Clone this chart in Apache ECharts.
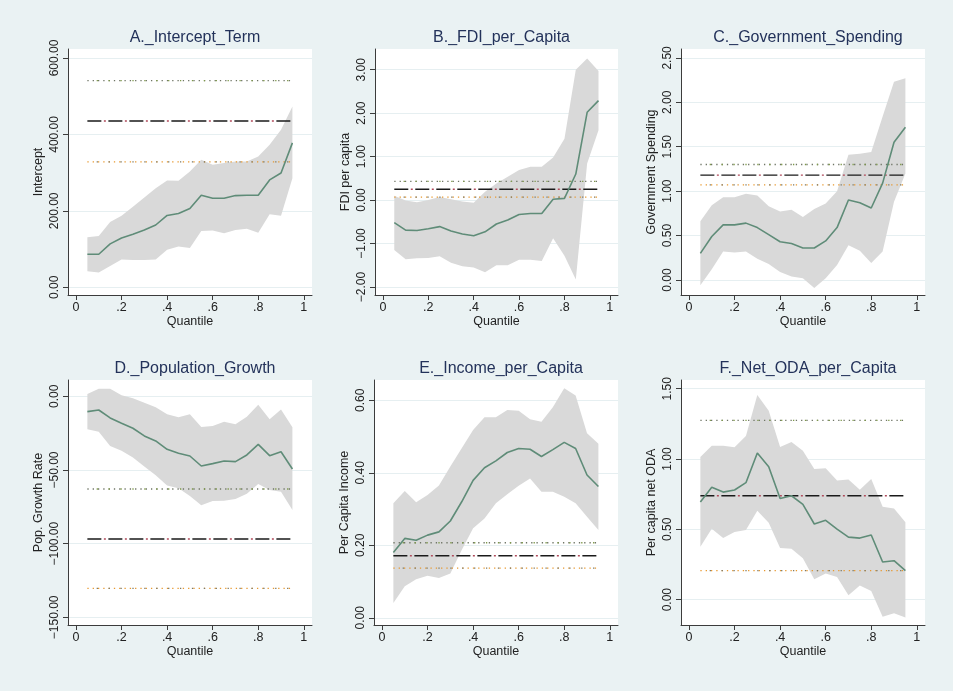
<!DOCTYPE html>
<html>
<head>
<meta charset="utf-8">
<script src="https://cdn.jsdelivr.net/npm/echarts@6/dist/echarts.min.js"></script>
<style>
  html, body { margin: 0; padding: 0; background: #eaf2f3; }
  #chart { width: 953px; height: 691px; }
</style>
</head>
<body>
<div id="chart"></div>
<script>
// Quantile regression coefficients (with 95% bands) vs. OLS estimate and its CI
const quantiles = [0.05, 0.10, 0.15, 0.20, 0.25, 0.30, 0.35, 0.40, 0.45, 0.50,
                   0.55, 0.60, 0.65, 0.70, 0.75, 0.80, 0.85, 0.90, 0.95];
const xTicks = [0, 0.2, 0.4, 0.6, 0.8, 1];

// A. Intercept
const interceptCoef  = [86.5, 86.5, 113.5, 129, 139, 150, 163, 188, 193, 206, 241, 233, 233, 240, 241, 241, 281, 299, 378];
const interceptUpper = [131, 134.5, 171, 187, 211, 235, 259, 279.5, 278.6, 303, 333.6, 320.5, 325, 329, 329, 342, 373, 412, 473];
const interceptLower = [42, 38.4, 56, 73, 71.6, 71.6, 73, 98, 106.6, 103, 147.6, 148.5, 141.5, 150, 153, 143, 191, 187, 285.6];
const interceptOls   = [435, 540.6, 328.4];   // estimate, upper, lower
const interceptTicks = [0, 200, 400, 600];

// B. FDI per capita
const fdiCoef  = [-0.52, -0.69, -0.70, -0.66, -0.61, -0.71, -0.78, -0.82, -0.73, -0.55, -0.46, -0.33, -0.31, -0.31, 0.02, 0.04, 0.60, 2.02, 2.29];
const fdiUpper = [0.10, -0.01, -0.05, 0.00, 0.07, 0.02, -0.03, -0.06, 0.19, 0.38, 0.54, 0.69, 0.77, 0.77, 0.98, 1.41, 3.00, 3.26, 2.97];
const fdiLower = [-1.15, -1.36, -1.34, -1.33, -1.29, -1.44, -1.52, -1.55, -1.66, -1.50, -1.50, -1.37, -1.37, -1.40, -0.88, -1.28, -1.83, 0.84, 1.61];
const fdiOls   = [0.25, 0.43, 0.07];
const fdiTicks = [-2, -1, 0, 1, 2, 3];

// C. Government spending
const govCoef  = [0.30, 0.49, 0.62, 0.62, 0.64, 0.59, 0.51, 0.43, 0.41, 0.36, 0.36, 0.44, 0.59, 0.90, 0.87, 0.81, 1.09, 1.55, 1.72];
const govUpper = [0.66, 0.84, 0.93, 0.93, 0.97, 0.95, 0.83, 0.77, 0.79, 0.71, 0.80, 0.86, 1.00, 1.41, 1.42, 1.44, 1.84, 2.23, 2.27];
const govLower = [-0.06, 0.12, 0.32, 0.31, 0.32, 0.24, 0.18, 0.09, 0.04, 0.02, -0.09, 0.02, 0.17, 0.39, 0.33, 0.19, 0.32, 0.88, 1.20];
const govOls   = [1.18, 1.30, 1.07];
const govTicks = [0, 0.5, 1, 1.5, 2, 2.5];

// D. Population growth
const popCoef  = [-10.4, -9.3, -14.7, -18.3, -21.7, -26.9, -30.3, -36.0, -38.7, -40.5, -47.3, -45.7, -43.9, -44.3, -39.8, -32.6, -40.3, -37.6, -49.3];
const popUpper = [1.6, 5.2, 5.2, 0.7, -1.4, -4.3, -7.5, -12.2, -14.3, -12.2, -20.8, -20.1, -17.2, -19.0, -13.8, -5.7, -15.6, -9.0, -21.0];
const popLower = [-22.4, -24.0, -33.7, -36.9, -41.6, -47.7, -53.6, -60.6, -62.4, -67.6, -74.0, -71.0, -70.8, -69.7, -66.1, -59.5, -63.6, -64.7, -77.1];
const popOls   = [-96.8, -62.9, -130.3];
const popTicks = [-150, -100, -50, 0];

// E. Income per capita
const incCoef  = [0.180, 0.219, 0.214, 0.228, 0.237, 0.267, 0.320, 0.379, 0.414, 0.433, 0.456, 0.467, 0.465, 0.445, 0.464, 0.484, 0.467, 0.394, 0.362];
const incUpper = [0.316, 0.350, 0.319, 0.339, 0.365, 0.417, 0.468, 0.518, 0.553, 0.553, 0.573, 0.571, 0.548, 0.541, 0.581, 0.633, 0.613, 0.509, 0.480];
const incLower = [0.041, 0.087, 0.106, 0.116, 0.110, 0.122, 0.187, 0.247, 0.274, 0.316, 0.341, 0.364, 0.384, 0.348, 0.348, 0.334, 0.316, 0.279, 0.242];
const incOls   = [0.171, 0.207, 0.137];
const incTicks = [0, 0.2, 0.4, 0.6];

// F. Net ODA per capita
const odaCoef  = [0.694, 0.799, 0.765, 0.780, 0.832, 1.043, 0.945, 0.720, 0.739, 0.678, 0.538, 0.564, 0.502, 0.445, 0.438, 0.460, 0.268, 0.277, 0.206];
const odaUpper = [1.014, 1.095, 1.095, 1.083, 1.163, 1.455, 1.344, 1.085, 1.121, 1.059, 0.929, 0.934, 0.848, 0.855, 0.782, 0.858, 0.661, 0.649, 0.550];
const odaLower = [0.377, 0.505, 0.438, 0.481, 0.495, 0.633, 0.547, 0.367, 0.363, 0.294, 0.145, 0.187, 0.161, 0.031, 0.100, 0.062, -0.121, -0.097, -0.126];
const odaOls   = [0.739, 1.275, 0.206];
const odaTicks = [0, 0.5, 1, 1.5];

const panels = [
  { title: 'A._Intercept_Term',      yName: 'Intercept',           coef: interceptCoef, upper: interceptUpper, lower: interceptLower, ols: interceptOls, ticks: interceptTicks,
    box: { left: 68,  top: 49,  width: 244, height: 246 }, yRange: [-20.2, 623.6] },
  { title: 'B._FDI_per_Capita',      yName: 'FDI per capita',      coef: fdiCoef, upper: fdiUpper, lower: fdiLower, ols: fdiOls, ticks: fdiTicks,
    box: { left: 375, top: 49,  width: 243, height: 246 }, yRange: [-2.184, 3.477] },
  { title: 'C._Government_Spending', yName: 'Government Spending', coef: govCoef, upper: govUpper, lower: govLower, ols: govOls, ticks: govTicks,
    box: { left: 681, top: 49,  width: 244, height: 246 }, yRange: [-0.169, 2.60] },
  { title: 'D._Population_Growth',   yName: 'Pop. Growth Rate',    coef: popCoef, upper: popUpper, lower: popLower, ols: popOls, ticks: popTicks,
    box: { left: 68,  top: 380, width: 244, height: 245 }, yRange: [-155.2, 11.06] },
  { title: 'E._Income_per_Capita',   yName: 'Per Capita Income',   coef: incCoef, upper: incUpper, lower: incLower, ols: incOls, ticks: incTicks,
    box: { left: 374, top: 380, width: 244, height: 245 }, yRange: [-0.020, 0.656] },
  { title: 'F._Net_ODA_per_Capita',  yName: 'Per capita net ODA',  coef: odaCoef, upper: odaUpper, lower: odaLower, ols: odaOls, ticks: odaTicks,
    box: { left: 681, top: 380, width: 244, height: 245 }, yRange: [-0.180, 1.562] }
];

const FONT = '"Liberation Sans", Arial, Helvetica, sans-serif';
const AXIS_COLOR = '#3c3c3c';
const GRID_COLOR = '#e6eff1';
const BAND_COLOR = '#d9d9d9';
const LINE_COLOR = '#5f8c78';

function fmtY(v) {
  return v.toFixed(2).replace('-', '\u2212');
}
function fmtX(v) {
  if (v === 0) return '0';
  if (v === 1) return '1';
  return '.' + Math.round(v * 10);
}

// Confidence band: one polygon through the upper bounds and back along the lower bounds
function bandRenderer(rows) {
  return function (params, api) {
    if (params.dataIndex !== 0) return null;
    const top = rows.map(r => api.coord([r[0], r[2]]));
    const bottom = rows.map(r => api.coord([r[0], r[1]])).reverse();
    return {
      type: 'polygon',
      shape: { points: top.concat(bottom) },
      style: { fill: BAND_COLOR, stroke: 'none' },
      silent: true
    };
  };
}

const option = {
  animation: false,
  backgroundColor: '#eaf2f3',
  textStyle: { fontFamily: FONT },
  title: [], grid: [], xAxis: [], yAxis: [], series: []
};

panels.forEach((p, i) => {
  const b = p.box;
  option.title.push({
    text: p.title,
    left: b.left + b.width / 2,
    top: b.top - 24,
    textAlign: 'center',
    textStyle: { fontFamily: FONT, fontSize: 16, fontWeight: 'normal', color: '#23325a' }
  });
  option.grid.push({
    left: b.left, top: b.top, width: b.width, height: b.height,
    show: true, backgroundColor: '#ffffff', borderWidth: 0
  });
  option.xAxis.push({
    type: 'value', gridIndex: i, min: -0.035, max: 1.036,
    name: 'Quantile', nameLocation: 'middle', nameGap: 20,
    nameTextStyle: { fontFamily: FONT, fontSize: 12.5, color: '#222' },
    axisLine: { show: true, onZero: false, lineStyle: { color: AXIS_COLOR, width: 1 } },
    axisTick: { show: true, length: 5, customValues: xTicks, lineStyle: { color: AXIS_COLOR } },
    axisLabel: { customValues: xTicks, formatter: fmtX, margin: 6,
                 fontFamily: FONT, fontSize: 12.5, color: '#222' },
    splitLine: { show: false }
  });
  option.yAxis.push({
    type: 'value', gridIndex: i, min: p.yRange[0], max: p.yRange[1],
    name: p.yName, nameLocation: 'middle', nameGap: 23, nameRotate: 90,
    nameTextStyle: { fontFamily: FONT, fontSize: 12.5, color: '#222' },
    axisLine: { show: true, onZero: false, lineStyle: { color: AXIS_COLOR, width: 1 } },
    axisTick: { show: true, length: 5, customValues: p.ticks, lineStyle: { color: AXIS_COLOR } },
    axisLabel: { customValues: p.ticks, formatter: fmtY, rotate: 90, margin: 7,
                 fontFamily: FONT, fontSize: 12, color: '#222' },
    splitLine: { show: true, lineStyle: { color: GRID_COLOR, width: 1.2 } }
  });

  const rows = quantiles.map((q, k) => [q, p.lower[k], p.upper[k]]);
  option.series.push({
    type: 'custom', xAxisIndex: i, yAxisIndex: i, data: rows,
    encode: { x: 0, y: [1, 2] },
    renderItem: bandRenderer(rows), silent: true, z: 1, clip: true
  });

  const q0 = quantiles[0], q1 = quantiles[quantiles.length - 1];
  const flat = v => [[q0, v], [q1, v]];
  // OLS upper CI: dotted grey/green
  option.series.push({
    type: 'line', xAxisIndex: i, yAxisIndex: i, data: flat(p.ols[1]), symbol: 'none', silent: true,
    lineStyle: { color: '#6f7566', width: 1.3, type: [1.3, 4] }, z: 3
  });
  option.series.push({
    type: 'line', xAxisIndex: i, yAxisIndex: i, data: flat(p.ols[1]), symbol: 'none', silent: true,
    lineStyle: { color: '#7f9a4a', width: 1.3, type: [1.3, 10.6], dashOffset: 2.6 }, z: 3
  });
  // OLS lower CI: dotted orange/grey
  option.series.push({
    type: 'line', xAxisIndex: i, yAxisIndex: i, data: flat(p.ols[2]), symbol: 'none', silent: true,
    lineStyle: { color: '#e8982e', width: 1.3, type: [1.3, 4] }, z: 3
  });
  option.series.push({
    type: 'line', xAxisIndex: i, yAxisIndex: i, data: flat(p.ols[2]), symbol: 'none', silent: true,
    lineStyle: { color: '#7a7a6a', width: 1.3, type: [1.3, 10.6], dashOffset: 2.6 }, z: 3
  });
  // OLS estimate: maroon dash-dot under black long dash
  option.series.push({
    type: 'line', xAxisIndex: i, yAxisIndex: i, data: flat(p.ols[0]), symbol: 'none', silent: true,
    lineStyle: { color: '#b04a5a', width: 1.4, type: [2, 19], dashOffset: -16.5 }, z: 3
  });
  option.series.push({
    type: 'line', xAxisIndex: i, yAxisIndex: i, data: flat(p.ols[0]), symbol: 'none', silent: true,
    lineStyle: { color: '#1a1a1a', width: 1.4, type: [14, 7] }, z: 4
  });
  // quantile regression coefficient
  option.series.push({
    type: 'line', xAxisIndex: i, yAxisIndex: i,
    data: quantiles.map((q, k) => [q, p.coef[k]]),
    symbol: 'none', silent: true, lineStyle: { color: LINE_COLOR, width: 1.6 }, z: 5
  });
});

const chart = echarts.init(document.getElementById('chart'), null, { renderer: 'canvas' });
chart.setOption(option);
</script>
</body>
</html>
